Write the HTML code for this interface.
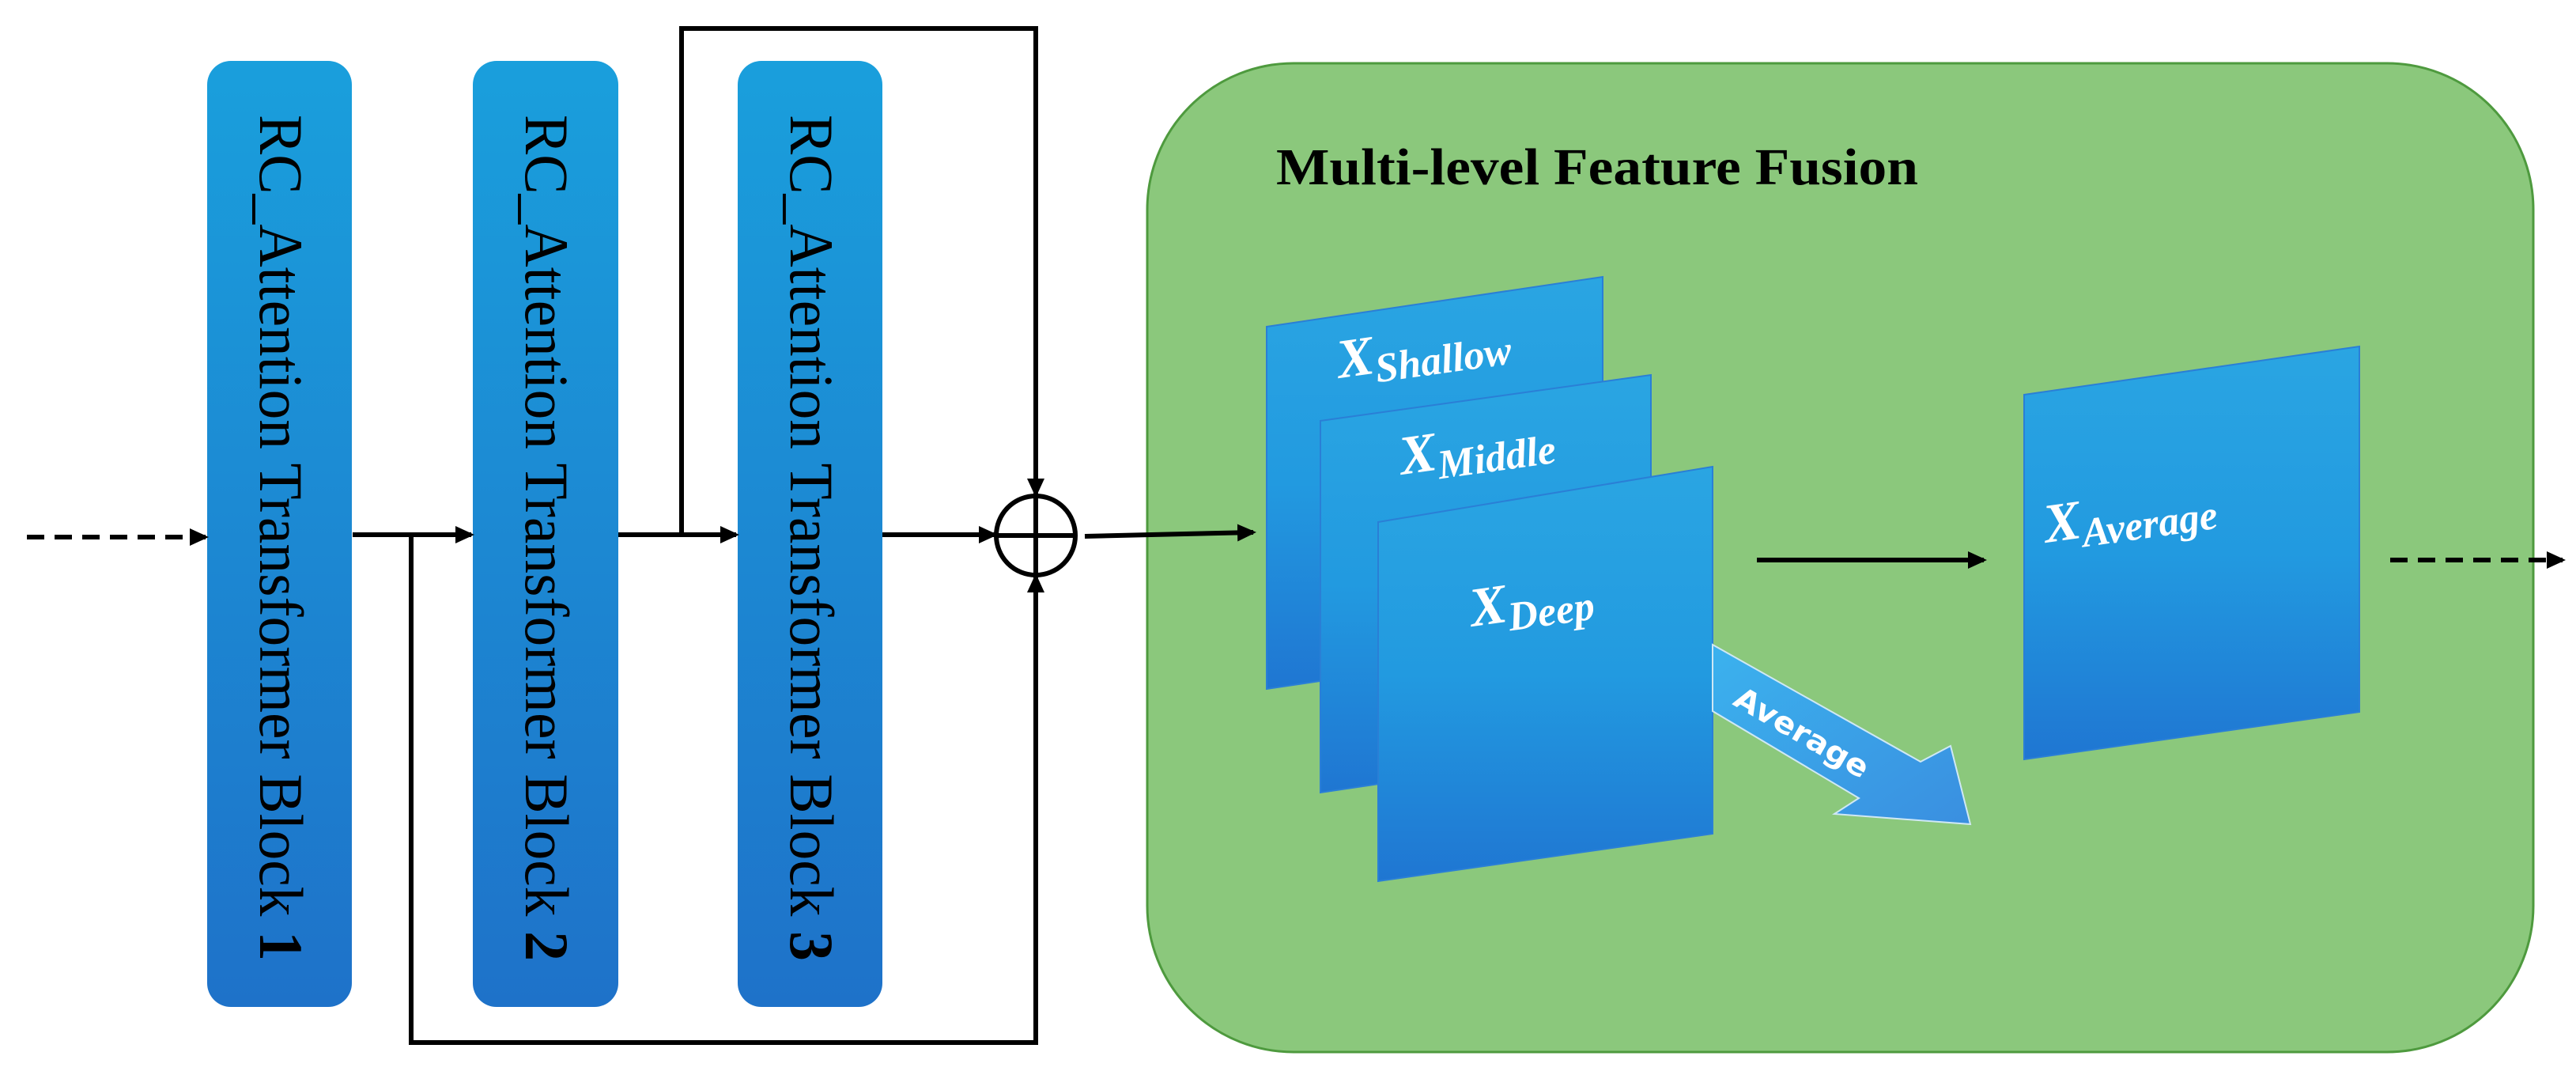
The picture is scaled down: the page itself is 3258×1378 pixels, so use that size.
<!DOCTYPE html>
<html><head><meta charset="utf-8"><style>html,body{margin:0;padding:0;background:#fff}svg{display:block}</style></head>
<body>
<svg width="3258" height="1378" viewBox="0 0 3258 1378" xmlns="http://www.w3.org/2000/svg">
<defs>
<linearGradient id="bg" x1="0" y1="0" x2="0" y2="1"><stop offset="0" stop-color="#1a9fdc"/><stop offset="1" stop-color="#1e72c9"/></linearGradient>
<linearGradient id="pg" x1="0" y1="0" x2="0" y2="1"><stop offset="0" stop-color="#2aa5e2"/><stop offset="0.5" stop-color="#229ae0"/><stop offset="1" stop-color="#1f76d2"/></linearGradient>
<linearGradient id="ag" x1="0" y1="0" x2="1" y2="1"><stop offset="0" stop-color="#3bb2ee"/><stop offset="1" stop-color="#3a8fe0"/></linearGradient>
<marker id="ah" markerWidth="24" markerHeight="22" refX="20" refY="11" orient="auto" markerUnits="userSpaceOnUse" viewBox="0 0 24 22"><path d="M0,0 L24,11 L0,22 z" fill="#000"/></marker>
</defs>

<!-- green box -->
<rect x="1451" y="80" width="1753" height="1250" rx="185" ry="185" fill="#8bc87c" stroke="#4e9a3e" stroke-width="3"/>
<text x="1614" y="233" font-family="Liberation Serif, serif" font-weight="bold" font-size="66" textLength="812" lengthAdjust="spacingAndGlyphs" fill="#000">Multi-level Feature Fusion</text>

<!-- blocks -->
<rect x="262" y="77" width="183" height="1196" rx="30" fill="url(#bg)"/>
<rect x="598" y="77" width="184" height="1196" rx="30" fill="url(#bg)"/>
<rect x="933" y="77" width="183" height="1196" rx="30" fill="url(#bg)"/>
<g font-family="Liberation Serif, serif" font-size="78" fill="#000">
<text transform="translate(329,145) rotate(90)" textLength="1070" lengthAdjust="spacingAndGlyphs">RC_Attention Transformer Block <tspan font-weight="bold">1</tspan></text>
<text transform="translate(665,145) rotate(90)" textLength="1070" lengthAdjust="spacingAndGlyphs">RC_Attention Transformer Block <tspan font-weight="bold">2</tspan></text>
<text transform="translate(1000,145) rotate(90)" textLength="1070" lengthAdjust="spacingAndGlyphs">RC_Attention Transformer Block <tspan font-weight="bold">3</tspan></text>
</g>

<!-- connectors -->
<g stroke="#000" stroke-width="6" fill="none">
<line x1="34" y1="679" x2="260" y2="679" stroke-dasharray="22,13" marker-end="url(#ah)"/>
<line x1="446" y1="676" x2="596" y2="676" marker-end="url(#ah)"/>
<polyline points="520,676 520,1318 1310,1318 1310,729" marker-end="url(#ah)"/>
<line x1="782" y1="676" x2="931" y2="676" marker-end="url(#ah)"/>
<polyline points="862,676 862,36 1310,36 1310,625" marker-end="url(#ah)"/>
<line x1="1116" y1="676" x2="1258" y2="676" marker-end="url(#ah)"/>
<circle cx="1310" cy="677" r="50"/>
<line x1="1260" y1="677" x2="1360" y2="677"/>
<line x1="1310" y1="627" x2="1310" y2="727"/>
<line x1="1372" y1="678" x2="1585" y2="673" marker-end="url(#ah)"/>
<line x1="2222" y1="708" x2="2509" y2="708" marker-end="url(#ah)"/>
<line x1="3023" y1="708" x2="3241" y2="708" stroke-dasharray="22,13" marker-end="url(#ah)"/>
</g>

<!-- panels -->
<polygon points="1602,413 2027,350 2027,808 1602,871" fill="url(#pg)" stroke="#2a7fd6" stroke-width="2"/>
<polygon points="1670,532 2088,474 2088,940 1670,1002" fill="url(#pg)" stroke="#2a7fd6" stroke-width="2"/>
<polygon points="1743,660 2166,590 2166,1054 1743,1114" fill="url(#pg)" stroke="#2a7fd6" stroke-width="2"/>
<polygon points="2560,499 2984,438 2984,900 2560,960" fill="url(#pg)" stroke="#2a7fd6" stroke-width="2"/>

<!-- average arrow -->
<polygon points="2166,815 2429,963 2467,943 2492,1042 2320,1029 2351,1009 2166,899" fill="url(#ag)" stroke="#cfe8f5" stroke-width="2"/>
<text transform="translate(2190,890) rotate(30)" font-family="DejaVu Sans, sans-serif" font-weight="bold" font-size="38" fill="#fff" textLength="190" lengthAdjust="spacingAndGlyphs">Average</text>

<!-- panel labels -->
<g font-family="Liberation Serif, serif" font-style="italic" font-weight="bold" fill="#fff">
<text transform="translate(1694,478) rotate(-8)"><tspan font-size="70">X</tspan><tspan font-size="52" dy="12">Shallow</tspan></text>
<text transform="translate(1773,600) rotate(-8)"><tspan font-size="70">X</tspan><tspan font-size="52" dy="12">Middle</tspan></text>
<text transform="translate(1862,792) rotate(-8)"><tspan font-size="70">X</tspan><tspan font-size="52" dy="12">Deep</tspan></text>
<text transform="translate(2588,686) rotate(-8)"><tspan font-size="70">X</tspan><tspan font-size="52" dy="12">Average</tspan></text>
</g>
</svg>
</body></html>
